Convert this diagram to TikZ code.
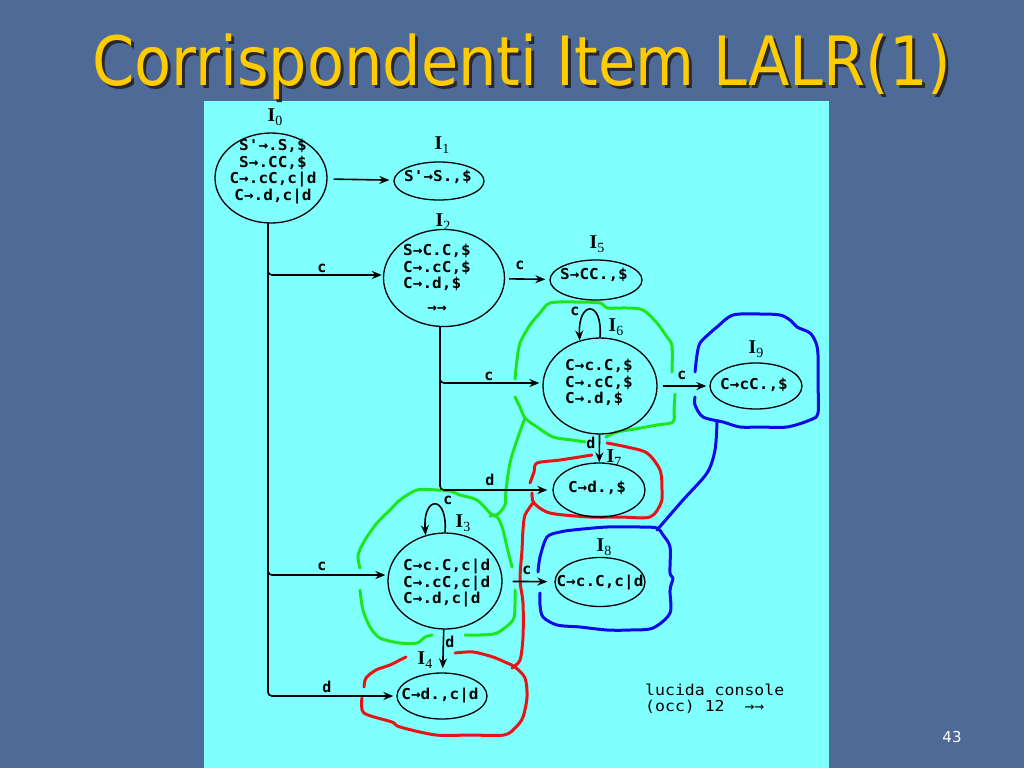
\documentclass[tikz,border=0pt]{standalone}
\usepackage{fontspec}
\setmainfont{DejaVu Sans}
\newfontfamily\itemfont{DejaVu Sans Mono}
\newfontfamily\labfont{Liberation Serif}
\usetikzlibrary{shapes.geometric,arrows.meta}
\definecolor{slide}{RGB}{77,107,150}
\definecolor{panel}{RGB}{128,255,255}
\definecolor{titley}{RGB}{255,204,0}
\definecolor{tshadow}{RGB}{40,40,50}
\definecolor{hgreen}{RGB}{30,230,30}
\definecolor{hred}{RGB}{230,20,20}
\definecolor{hblue}{RGB}{10,10,230}
\newcommand{\itm}[1]{\scalebox{1.07}[1]{\itemfont\bfseries\fontsize{15}{16.5}\selectfont\begin{tabular}{@{}l@{}}#1\end{tabular}}}
\newcommand{\itmc}[1]{\scalebox{1.07}[1]{\itemfont\bfseries\fontsize{15}{16.5}\selectfont\begin{tabular}{@{}c@{}}#1\end{tabular}}}
\newcommand{\Ilab}[1]{{\labfont\fontsize{19.5}{19.5}\selectfont\bfseries I}{\labfont\fontsize{14}{14}\selectfont\raisebox{-4pt}{#1}}}
\begin{document}
\begin{tikzpicture}[x=1pt,y=-1pt,
  st/.style={draw=black, line width=1.3pt, ellipse, inner sep=0pt},
  txt/.style={inner sep=0pt},
  arr/.style={draw=black, line width=1.6pt, -{Stealth[length=10pt,width=8pt]}},
  elab/.style={inner sep=0pt, font=\itemfont\bfseries\fontsize{15}{15}\selectfont},
  lab/.style={inner sep=0pt},
  hand/.style={line width=3pt, line cap=round, line join=round}]
\useasboundingbox (0,0) rectangle (1024,768);
\fill[slide] (0,0) rectangle (1024,768);
\fill[panel] (204,101) rectangle (829,768);
% title
\node[anchor=base, text=tshadow, font=\fontsize{68}{68}\selectfont] (titleshadow) at (525,88) {\scalebox{0.89}[1]{Corrispondenti Item LALR(1)}};
\node[anchor=base, text=titley, font=\fontsize{68}{68}\selectfont] (title) at (522,85) {\scalebox{0.89}[1]{Corrispondenti Item LALR(1)}};
\node[text=white, font=\fontsize{15}{15}\selectfont] (pnum) at (952,737) {43};

% hand-drawn outlines: green
\draw[hand,hgreen] plot[smooth,tension=0.5] coordinates {(515,379) (517,360) (520,343) (530,325) (540,313) (550,303) (575,302) (600,303) (607,308) (627,308) (643,310) (657,323) (667,337) (672,346) (672,372)};
\draw[hand,hgreen] plot[smooth,tension=0.5] coordinates {(675,394) (674,410) (673,422) (657,425) (635,429) (617,432) (606,437)};
\draw[hand,hgreen] plot[smooth,tension=0.5] coordinates {(585,442) (572,440) (553,437) (537,427) (525,418) (520,407) (515,397)};
\draw[hand,hgreen] plot[smooth,tension=0.5] coordinates {(525,418) (517,440) (510,463) (506,490) (505,505) (498,514) (490,516)};
\draw[hand,hgreen] plot[smooth,tension=0.5] coordinates {(360,568) (358,555) (365,540) (377,523) (390,510) (400,500) (417,490) (437,490) (450,491) (460,495) (477,500) (490,513) (498,518) (503,530) (507,547) (512,567)};
\draw[hand,hgreen] plot[smooth,tension=0.5] coordinates {(515,590) (515,605) (513,620) (497,633) (480,635) (465,635)};
\draw[hand,hgreen] plot[smooth,tension=0.5] coordinates {(432,635) (425,637) (417,643) (400,643) (380,638) (370,627) (363,610) (360,590)};
% red
\draw[hand,hred] plot[smooth,tension=0.5] coordinates {(607,443) (627,447) (647,453) (660,470) (662,490) (661,503) (650,517) (620,517) (590,517) (550,513) (534,503) (532,493)};
\draw[hand,hred] plot[smooth,tension=0.5] coordinates {(592,455) (560,460) (537,463) (534,472) (530,483)};
\draw[hand,hred] plot[smooth,tension=0.5] coordinates {(533,503) (525,515) (523,530) (522,550) (520,580) (523,603) (523,637) (520,660) (512,668)};
\draw[hand,hred] plot[smooth,tension=0.5] coordinates {(455,653) (473,652) (493,657) (507,663) (515,667) (525,678) (527,697) (523,717) (516,727) (504,735) (470,735) (436,735) (400,727) (392,722) (364,713) (362,698)};
\draw[hand,hred] plot[smooth,tension=0.5] coordinates {(364,687) (366,678) (376,670) (390,665) (398,661) (406,657)};
% blue
\draw[hand,hblue] plot[smooth,tension=0.5] coordinates {(695,372) (697,355) (700,343) (710,333) (717,327) (733,315) (760,314) (780,315) (790,320) (797,327) (810,333) (816,343) (818,355) (818,383) (818,413) (810,420) (787,427) (760,427) (740,427) (723,422) (703,417) (695,405) (695,397)};
\draw[hand,hblue] plot[smooth,tension=0.5] coordinates {(717,422) (715,450) (707,473) (683,500) (657,530)};
\draw[hand,hblue] plot[smooth,tension=0.5] coordinates {(538,572) (540,557) (547,537) (560,532) (573,530) (607,527) (640,527) (657,528) (663,535) (670,547) (670,573) (673,578) (670,590) (670,613) (653,628) (630,630) (607,630) (580,627) (557,625) (543,617) (540,605) (540,593)};

% states
\node[st, minimum width=112pt, minimum height=90pt] (I0) at (271,178) {};
\node[st, minimum width=90pt, minimum height=38pt] (I1) at (439,181) {};
\node[st, minimum width=121pt, minimum height=97pt] (I2) at (444,278) {};
\node[st, minimum width=92pt, minimum height=40pt] (I5) at (596,280) {};
\node[st, minimum width=114pt, minimum height=96pt] (I6) at (600,386) {};
\node[st, minimum width=92pt, minimum height=46pt] (I9) at (756,386) {};
\node[st, minimum width=92pt, minimum height=54pt] (I7) at (599,490) {};
\node[st, minimum width=114pt, minimum height=96pt] (I3) at (445,581) {};
\node[st, minimum width=90pt, minimum height=49pt] (I8) at (600,582) {};
\node[st, minimum width=90pt, minimum height=46pt] (I4) at (442,696) {};

% item texts
\node[txt] (t0) at (273,172) {\itmc{S'→.S,\$\\S→.CC,\$\\C→.cC,c|d\\C→.d,c|d}};
\node[txt] (t1) at (438,178) {\itm{S'→S.,\$}};
\node[txt, anchor=west] (t2) at (403,269) {\itm{S→C.C,\$\\C→.cC,\$\\C→.d,\$}};
\node[txt] (t2b) at (437,309) {\itm{→→}};
\node[txt] (t5) at (594,276) {\itm{S→CC.,\$}};
\node[txt, anchor=west] (t6) at (565,384) {\itm{C→c.C,\$\\C→.cC,\$\\C→.d,\$}};
\node[txt] (t9) at (754,386) {\itm{C→cC.,\$}};
\node[txt] (t7) at (597,489) {\itm{C→d.,\$}};
\node[txt, anchor=west] (t3) at (403,584) {\itm{C→c.C,c|d\\C→.cC,c|d\\C→.d,c|d}};
\node[txt] (t8) at (600,583) {\itm{C→c.C,c|d}};
\node[txt] (t4) at (440,696) {\itm{C→d.,c|d}};

% state labels
\node[lab] (L0) at (275,117) {\Ilab{0}};
\node[lab] (L1) at (442,145) {\Ilab{1}};
\node[lab] (L2) at (443,222) {\Ilab{2}};
\node[lab] (L5) at (597,244) {\Ilab{5}};
\node[lab] (L6) at (616,327) {\Ilab{6}};
\node[lab] (L9) at (756,349) {\Ilab{9}};
\node[lab] (L7) at (614,458) {\Ilab{7}};
\node[lab] (L3) at (463,523) {\Ilab{3}};
\node[lab] (L8) at (604,547) {\Ilab{8}};
\node[lab] (L4) at (425,660) {\Ilab{4}};

% connectors
\draw[arr, shorten <=6pt, shorten >=4pt] (I0) -- (I1);
\draw[arr, rounded corners=4pt, shorten >=1pt] ([xshift=-3pt]I0.south) |- ([yshift=3pt]I2.west);
\draw[arr, rounded corners=4pt, shorten >=2pt] ([xshift=-3pt]I0.south) |- ([yshift=6pt]I3.west);
\draw[arr, rounded corners=4pt, shorten >=3pt] ([xshift=-3pt]I0.south) |- (I4.west);
\draw[arr, shorten <=4pt, shorten >=4pt] (I2) -- (I5);
\draw[arr, rounded corners=4pt, shorten >=3pt] ([xshift=-4pt]I2.south) |- ([yshift=3pt]I6.west);
\draw[arr, rounded corners=4pt, shorten >=5pt] ([xshift=-4pt]I2.south) |- (I7.west);
\draw[arr, shorten <=5pt, shorten >=3pt] (I6) -- (I9);
\draw[arr] (I6) -- (I7);
\draw[arr, shorten <=10pt, shorten >=7pt] (I3) -- (I8);
\draw[arr, shorten >=4pt] (I3) -- (I4);
\draw[arr] (I6.north) .. controls +(3,-38) and +(-2,-40) .. (I6.114);
\draw[arr] (I3.north) .. controls +(3,-38) and +(-3,-40) .. (I3.113);

% edge labels
\node[elab] (e02) at (322,268) {c};
\node[elab] (e25) at (520,265) {c};
\node[elab] (e26) at (489,376) {c};
\node[elab] (e27) at (490,480) {d};
\node[elab] (e69) at (682,375) {c};
\node[elab] (e67) at (591,443) {d};
\node[elab] (e66) at (575,311) {c};
\node[elab] (e03) at (322,566) {c};
\node[elab] (e33) at (448,500) {c};
\node[elab] (e38) at (527,570) {c};
\node[elab] (e34) at (450,642) {d};
\node[elab] (e04) at (327,687) {d};

% note
\node[txt, anchor=west] (note) at (645,700) {\scalebox{1.1}[1]{\itemfont\fontsize{15}{16.5}\selectfont\begin{tabular}{@{}l@{}}lucida console\\(occ) 12\ \ →→\end{tabular}}};
\end{tikzpicture}
\end{document}
